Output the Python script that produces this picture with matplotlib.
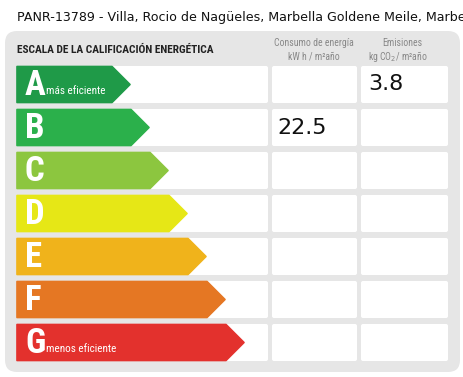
import matplotlib
matplotlib.use("Agg")
import matplotlib.pyplot as plt
from matplotlib.patches import FancyBboxPatch, Polygon

title = "PANR-13789 - Villa, Rocio de Nagüeles, Marbella Goldene Meile, Marbella"
header = "ESCALA DE LA CALIFICACIÓN ENERGÉTICA"
col1_header = ["Consumo de energía", "kW h / m²año"]
col2_header = ["Emisiones", "kg CO$_2$/ m²año"]
classes = ["A", "B", "C", "D", "E", "F", "G"]
class_notes = ["más eficiente", "", "", "", "", "", "menos eficiente"]
class_colors = ["#1f9a48", "#2bb04b", "#8cc63f", "#e6e716", "#f0b31b", "#e57723", "#e3312d"]
consumo = [None, 22.5, None, None, None, None, None]
emisiones = [3.8, None, None, None, None, None, None]

W, H = 464, 377
fig = plt.figure(figsize=(W / 100, H / 100), dpi=100)
ax = fig.add_axes([0, 0, 1, 1])
ax.set_xlim(0, W)
ax.set_ylim(H, 0)
ax.axis("off")

narrow = ["Roboto Condensed", "Archivo Narrow", "DejaVu Sans"]

ax.text(17, 17, title, fontsize=9.05, va="center", ha="left", color="#111111",
        family="DejaVu Sans", clip_on=True)

# grey panel
ax.add_patch(FancyBboxPatch((5, 31), 455, 341, boxstyle="round,pad=0,rounding_size=12",
                            fc="#e6e6e6", ec="none"))

ax.text(17, 50, header, fontsize=8.2, fontweight="bold", family=narrow,
        va="center", ha="left", color="#222222")
hdr_kw = dict(fontsize=7, family=narrow, ha="center", va="center", color="#888888")
ax.text(314, 43, col1_header[0], **hdr_kw)
ax.text(314, 56, col1_header[1], **hdr_kw)
ax.text(402, 43, col2_header[0], **hdr_kw)
ax.text(398, 56, col2_header[1], **hdr_kw)

row_top0, row_step, row_h = 66, 43, 37
for i, cls in enumerate(classes):
    top = row_top0 + i * row_step
    for (x0, x1) in [(17, 268), (272, 357), (361, 448)]:
        ax.add_patch(FancyBboxPatch((x0, top), x1 - x0, row_h,
                                    boxstyle="round,pad=0,rounding_size=2",
                                    fc="white", ec="none"))
    tip = 130 + i * 19
    body = tip - 18
    t, b = top + 0.5, top + row_h - 0.5
    mid = (t + b) / 2
    poly = Polygon([(17, t), (body, t), (tip, mid), (body, b), (17, b)],
                   closed=True, fc=class_colors[i], ec=class_colors[i], lw=1.2, joinstyle="round")
    ax.add_patch(poly)
    ax.text(25, mid + 1, cls, fontsize=25, fontweight="bold", family=narrow,
            color="white", ha="left", va="center")
    if class_notes[i]:
        ax.text(46, mid + 7, class_notes[i], fontsize=8, family=narrow,
                color="white", ha="left", va="center")
    if consumo[i] is not None:
        ax.text(277, mid, f"{consumo[i]}", fontsize=16, family="DejaVu Sans",
                ha="left", va="center", color="#111111")
    if emisiones[i] is not None:
        ax.text(368, mid, f"{emisiones[i]}", fontsize=16, family="DejaVu Sans",
                ha="left", va="center", color="#111111")

fig.savefig("out.png", dpi=100)
